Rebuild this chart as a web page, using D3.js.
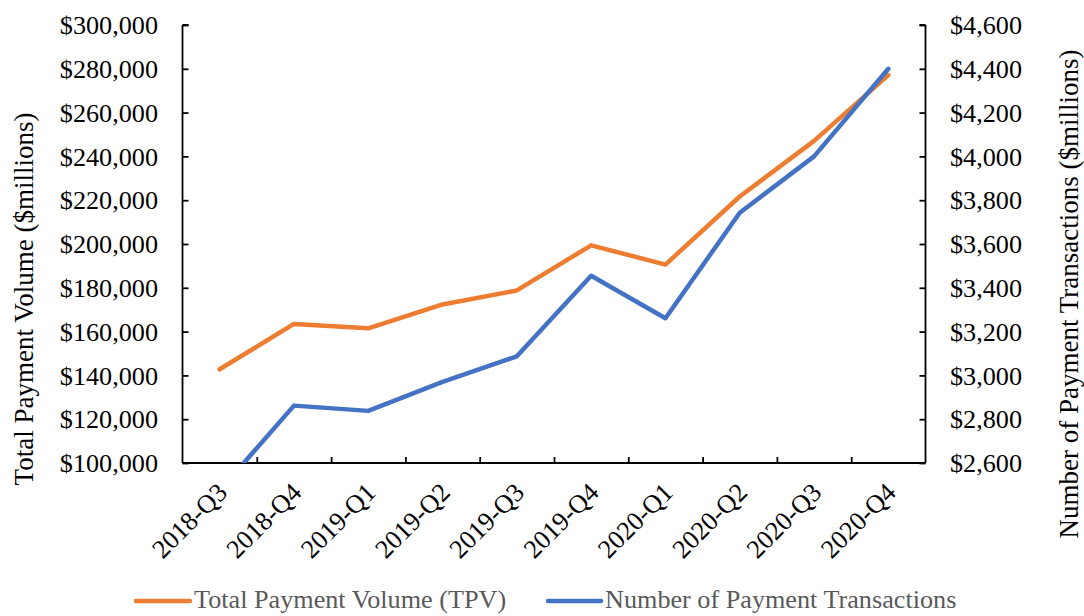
<!DOCTYPE html>
<html>
<head>
<meta charset="utf-8">
<script src="https://cdn.jsdelivr.net/npm/d3@7"></script>
<style>
  html, body { margin: 0; padding: 0; background: #fff; }
  svg { display: block; }
  text { font-family: "Liberation Serif", "Times New Roman", serif; }
</style>
</head>
<body>
<svg id="chart" width="1084" height="616"></svg>
<script>
const quarters = ["2018-Q3","2018-Q4","2019-Q1","2019-Q2","2019-Q3","2019-Q4","2020-Q1","2020-Q2","2020-Q3","2020-Q4"];
const tpv = [142800, 163500, 161500, 172400, 178800, 199400, 190600, 221700, 247100, 277100];
const transactions = [2474, 2862, 2838, 2970, 3087, 3455, 3261, 3743, 4000, 4400];
const leftTicks = [100000,120000,140000,160000,180000,200000,220000,240000,260000,280000,300000];
const rightTicks = [2600,2800,3000,3200,3400,3600,3800,4000,4200,4400,4600];
const seriesNames = ["Total Payment Volume (TPV)", "Number of Payment Transactions"];
const colors = ["#ED7D31", "#4472C4"];

const svg = d3.select("#chart");
const L = 182.5, R = 925.5, T = 25, B = 463;
const fsTick = 26.2, fsTitle = 27, fsLegend = 26.2;

const x = d3.scaleBand().domain(quarters).range([L, R]);
const yL = d3.scaleLinear().domain([100000, 300000]).range([B, T]);
const yR = d3.scaleLinear().domain([2600, 4600]).range([B, T]);
const fmt = d => "$" + d3.format(",")(d);

svg.append("defs").append("clipPath").attr("id","clip")
  .append("rect").attr("x", L).attr("y", T - 10).attr("width", R - L + 10).attr("height", B - T + 10);

// Left axis
const gL = svg.append("g").attr("transform", `translate(${L},0)`)
  .call(d3.axisRight(yL).tickValues(leftTicks).tickSize(6).tickFormat(""));
svg.append("g").selectAll("text").data(leftTicks).join("text")
  .attr("x", 158).attr("y", d => yL(d)).attr("dy", "0.35em")
  .attr("text-anchor", "end").attr("font-size", fsTick).attr("fill", "#000")
  .text(fmt);

// Right axis
const gR = svg.append("g").attr("transform", `translate(${R},0)`)
  .call(d3.axisLeft(yR).tickValues(rightTicks).tickSize(6).tickFormat(""));
svg.append("g").selectAll("text").data(rightTicks).join("text")
  .attr("x", 950).attr("y", d => yR(d)).attr("dy", "0.35em")
  .attr("text-anchor", "start").attr("font-size", fsTick).attr("fill", "#000")
  .text(fmt);

// Bottom axis with ticks between categories
const gB = svg.append("g").attr("transform", `translate(0,${B})`)
  .call(d3.axisTop(d3.scaleLinear().domain([0, quarters.length]).range([L, R]))
    .tickValues(d3.range(1, quarters.length)).tickSize(6).tickFormat(""));
[gL, gR, gB].forEach(g => {
  g.select(".domain").attr("stroke", "#000").attr("stroke-width", 1.8);
  g.selectAll(".tick line").attr("stroke", "#000").attr("stroke-width", 1.8);
});
gL.select(".domain").attr("d", `M0,${T}H6M0,${T}V${B}`);
gR.select(".domain").attr("d", `M0,${T}H-6M0,${T}V${B}`);
gB.select(".domain").attr("d", `M${L},0H${R}`);

// X labels
svg.append("g").selectAll("text").data(quarters).join("text")
  .attr("transform", d => `translate(${x(d) + x.bandwidth()/2 + 9},${494}) rotate(-45)`)
  .attr("text-anchor", "end").attr("font-size", fsTick).attr("fill", "#000")
  .text(d => d);

// Axis titles
svg.append("text")
  .attr("transform", `translate(24,299) rotate(-90)`)
  .attr("text-anchor", "middle").attr("dy", "0.35em").attr("font-size", fsTitle).attr("fill", "#000")
  .text("Total Payment Volume ($millions)");
svg.append("text")
  .attr("transform", `translate(1069,294) rotate(-90)`)
  .attr("text-anchor", "middle").attr("dy", "0.35em").attr("font-size", fsTitle).attr("fill", "#000")
  .text("Number of Payment Transactions ($millions)");

// Lines
const cx = d => x(d) + x.bandwidth()/2;
const lineL = d3.line().x((d,i) => cx(quarters[i])).y(d => yL(d));
const lineR = d3.line().x((d,i) => cx(quarters[i])).y(d => yR(d));
const plot = svg.append("g").attr("clip-path", "url(#clip)");
plot.append("path").datum(tpv).attr("d", lineL)
  .attr("fill","none").attr("stroke", colors[0]).attr("stroke-width", 4.5)
  .attr("stroke-linecap","round").attr("stroke-linejoin","round");
plot.append("path").datum(transactions).attr("d", lineR)
  .attr("fill","none").attr("stroke", colors[1]).attr("stroke-width", 4.5)
  .attr("stroke-linecap","round").attr("stroke-linejoin","round");

// Legend
const legend = [
  {name: seriesNames[0], color: colors[0], x1: 136, x2: 190, tx: 194},
  {name: seriesNames[1], color: colors[1], x1: 548, x2: 601, tx: 605}
];
const lg = svg.append("g");
legend.forEach(l => {
  lg.append("line").attr("x1", l.x1).attr("x2", l.x2).attr("y1", 601).attr("y2", 601)
    .attr("stroke", l.color).attr("stroke-width", 4.5).attr("stroke-linecap","round");
  lg.append("text").attr("x", l.tx).attr("y", 599).attr("dy","0.35em")
    .attr("font-size", fsLegend).attr("fill", "#595959").text(l.name);
});
</script>
</body>
</html>
